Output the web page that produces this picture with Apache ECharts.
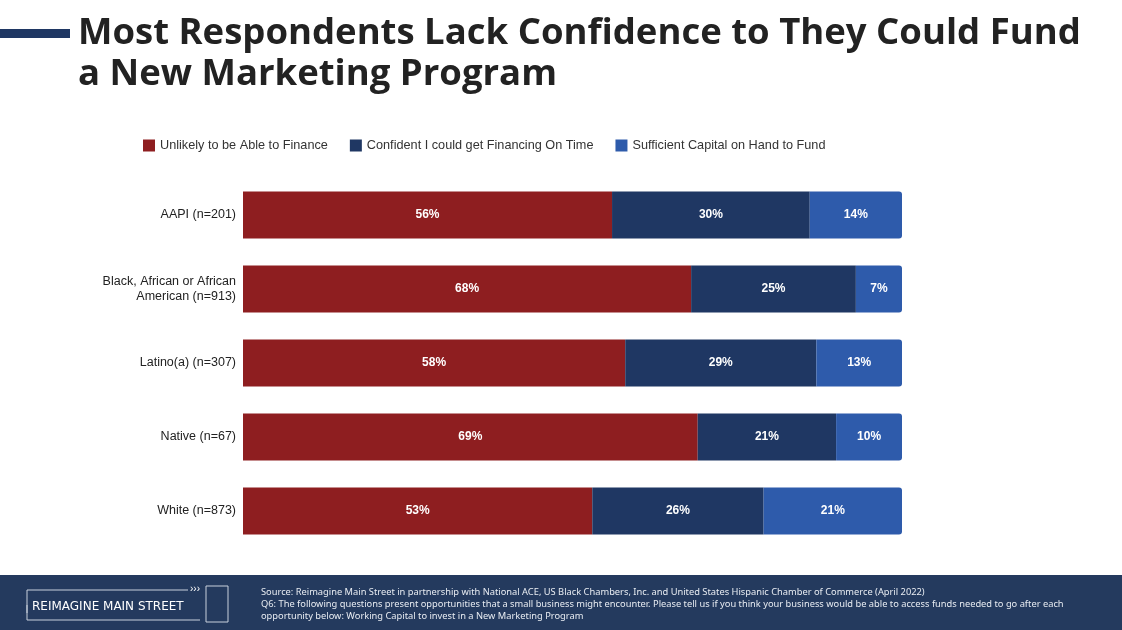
<!DOCTYPE html><html><head><meta charset="utf-8">
<script src="https://cdn.jsdelivr.net/npm/echarts@6/dist/echarts.min.js"></script>
<style>html,body{margin:0;padding:0;background:#fff}#c{width:1122px;height:630px}</style></head><body><div id="c"></div>
<script>
const categories=["AAPI (n=201)","Black, African or African\nAmerican (n=913)","Latino(a) (n=307)","Native (n=67)","White (n=873)"];
const seriesNames=["Unlikely to be Able to Finance","Confident I could get Financing On Time","Sufficient Capital on Hand to Fund"];
const unlikely=[56,68,58,69,53];
const confident=[30,25,29,21,26];
const sufficient=[14,7,13,10,21];
const colors=["#8E1E20","#1F3763","#2E5BAB"];
const chart=echarts.init(document.getElementById('c'));
const vals=[unlikely,confident,sufficient];
chart.setOption({
animation:false,
graphic:[
{type:'rect',shape:{x:0,y:29,width:70,height:9},style:{fill:'#1F3763'}},
{type:'text',left:78,top:13,style:{text:'Most Respondents Lack Confidence to They Could Fund\na New Marketing Program',font:'bold 36.5px "Open Sans", sans-serif',fill:'#222',lineHeight:41}},
{type:'rect',shape:{x:0,y:575,width:1122,height:55},style:{fill:'#243A5E'}},
{type:'polyline',shape:{points:[[27,613],[27,590],[188,590]]},style:{stroke:'#c8d0dc',lineWidth:1,fill:null}},
{type:'polyline',shape:{points:[[27,605],[27,620],[200,620]]},style:{stroke:'#c8d0dc',lineWidth:1,fill:null}},
{type:'text',left:190,top:584,style:{text:'›››',font:'10px sans-serif',fill:'#fff'}},
{type:'rect',shape:{x:206,y:586,width:22,height:36},style:{fill:'none',stroke:'#c8d0dc',lineWidth:1}},
{type:'text',left:32,top:601,style:{text:'REIMAGINE MAIN STREET',font:'12px "DejaVu Sans", sans-serif',fill:'#fff'}},
{type:'text',left:261,top:586,style:{text:'Source: Reimagine Main Street in partnership with National ACE, US Black Chambers, Inc. and United States Hispanic Chamber of Commerce (April 2022)\nQ6: The following questions present opportunities that a small business might encounter. Please tell us if you think your business would be able to access funds needed to go after each\nopportunity below: Working Capital to invest in a New Marketing Program',font:'9.3px "Noto Sans", sans-serif',fill:'#e8ecf2',lineHeight:12}}
],
legend:{top:134,left:138,itemWidth:12,itemHeight:12,itemGap:22,icon:'rect',textStyle:{fontSize:12.7,color:'#333',fontFamily:'Arial, Liberation Sans'},data:seriesNames},
grid:{left:243,right:220,top:178,bottom:82},
xAxis:{type:'value',min:0,max:100,show:false},
yAxis:{type:'category',data:categories,inverse:true,axisLine:{show:false},axisTick:{show:false},axisLabel:{fontSize:12.5,color:'#222',fontFamily:'Arial, Liberation Sans',margin:7,lineHeight:15}},
series:vals.map((v,i)=>({name:seriesNames[i],type:'bar',stack:'s',barWidth:47,data:v,itemStyle:{color:colors[i],borderRadius:i===2?[0,3,3,0]:0},
label:{show:true,position:'inside',formatter:'{c}%',color:'#fff',fontWeight:'bold',fontSize:12,fontFamily:'Arial, Liberation Sans'}}))
});
</script></body></html>
